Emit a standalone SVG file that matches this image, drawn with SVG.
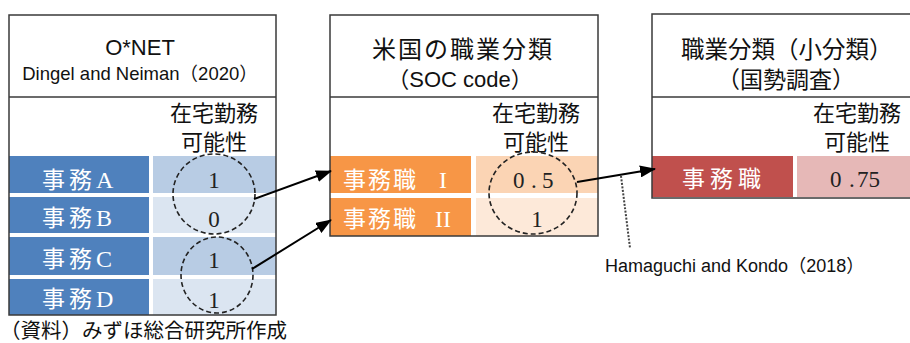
<svg xmlns="http://www.w3.org/2000/svg" width="910" height="343" viewBox="0 0 910 343">
<defs>
<style>
.frame{fill:none;stroke:#3a3a3a;stroke-width:1.5}
.sans{font-family:"Liberation Sans","Noto Sans CJK JP",sans-serif;fill:#111}
.jp{font-family:"Noto Sans CJK JP","Liberation Sans",sans-serif;fill:#111}
.lbl{font-family:"Noto Sans CJK JP","Liberation Serif",serif;fill:#fff;font-size:23px}
.lblr{font-family:"Liberation Serif","Noto Sans CJK JP",serif;fill:#fff;font-size:24px}
.val{font-family:"Liberation Serif","Noto Sans CJK JP",serif;fill:#222;font-size:23px;text-anchor:middle}
.circ{fill:none;stroke:#222;stroke-width:1.6;stroke-dasharray:5 3}
.conn{fill:none;stroke:#000;stroke-width:2}
</style>
<marker id="ah" markerUnits="userSpaceOnUse" markerWidth="16" markerHeight="12" refX="15" refY="6" orient="auto">
<path d="M0,0 L16,6 L0,12 Z" fill="#000"/>
</marker>
</defs>
<rect width="910" height="343" fill="#fff"/>

<g id="box-onet">
<rect x="9" y="156" width="140" height="37" fill="#4f81bd"/>
<rect x="9" y="197" width="140" height="36" fill="#4f81bd"/>
<rect x="9" y="237" width="140" height="38" fill="#4f81bd"/>
<rect x="9" y="279" width="140" height="36" fill="#4f81bd"/>
<rect x="153" y="156" width="123" height="37" fill="#b8cce4"/>
<rect x="153" y="197" width="123" height="36" fill="#dbe5f1"/>
<rect x="153" y="237" width="123" height="38" fill="#b8cce4"/>
<rect x="153" y="279" width="123" height="36" fill="#dbe5f1"/>
<rect class="frame" x="9" y="15" width="267" height="300"/>
<line class="frame" x1="9" y1="97" x2="276" y2="97"/>
<text class="sans" x="140" y="55" font-size="22" text-anchor="middle">O*NET</text>
<text class="sans" x="140" y="80" font-size="18.5" text-anchor="middle">Dingel and Neiman（2020）</text>
<text class="jp" x="214" y="121" font-size="22" text-anchor="middle">在宅勤務</text>
<text class="jp" x="214" y="150" font-size="22" text-anchor="middle">可能性</text>
<text class="lbl" x="42" y="188" letter-spacing="4">事務<tspan class="lblr">A</tspan></text>
<text class="lbl" x="42" y="226" letter-spacing="4">事務<tspan class="lblr">B</tspan></text>
<text class="lbl" x="42" y="267" letter-spacing="4">事務<tspan class="lblr">C</tspan></text>
<text class="lbl" x="42" y="307" letter-spacing="4">事務<tspan class="lblr">D</tspan></text>
<text class="val" x="214" y="188">1</text>
<text class="val" x="214" y="227">0</text>
<text class="val" x="214" y="268">1</text>
<text class="val" x="214" y="308">1</text>
<ellipse class="circ" cx="214" cy="194" rx="41" ry="40"/>
<ellipse class="circ" cx="217" cy="275" rx="36" ry="38"/>
</g>

<g id="box-soc">
<rect x="330" y="156" width="141" height="37" fill="#f79646"/>
<rect x="330" y="198" width="141" height="38" fill="#f79646"/>
<rect x="476" y="156" width="122" height="37" fill="#fbd4b4"/>
<rect x="476" y="198" width="122" height="38" fill="#fde9d9"/>
<rect class="frame" x="330" y="15" width="268" height="221"/>
<line class="frame" x1="330" y1="97" x2="598" y2="97"/>
<text class="jp" x="372" y="58" font-size="24" letter-spacing="2">米国の職業分類</text>
<text class="sans" x="460" y="87" font-size="22" text-anchor="middle">（SOC code）</text>
<text class="jp" x="536" y="121" font-size="22" text-anchor="middle">在宅勤務</text>
<text class="jp" x="536" y="150" font-size="22" text-anchor="middle">可能性</text>
<text class="lbl" x="343" y="188" font-size="23.5" letter-spacing="2">事務職</text>
<text class="lblr" x="443" y="188" text-anchor="middle">I</text>
<text class="lbl" x="343" y="227" font-size="23.5" letter-spacing="2">事務職</text>
<text class="lblr" x="443" y="227" text-anchor="middle">II</text>
<text class="val" y="188" style="text-anchor:start"><tspan x="513">0</tspan><tspan x="531">.</tspan><tspan x="542">5</tspan></text>
<text class="val" x="537" y="227">1</text>
<ellipse class="circ" cx="533" cy="193" rx="44" ry="41"/>
</g>

<g id="box-census">
<rect x="652" y="156" width="141" height="41" fill="#c0504d"/>
<rect x="797" y="156" width="130" height="41" fill="#e6b8b7"/>
<rect class="frame" x="652" y="14" width="280" height="184"/>
<line class="frame" x1="652" y1="97" x2="932" y2="97"/>
<text class="jp" x="681" y="58" font-size="23.5">職業分類（小分類）</text>
<text class="sans" x="786" y="88" font-size="23" text-anchor="middle">（国勢調査）</text>
<text class="jp" x="857" y="121" font-size="22" text-anchor="middle">在宅勤務</text>
<text class="jp" x="857" y="150" font-size="22" text-anchor="middle">可能性</text>
<text class="lbl" x="682" y="187" font-size="24" letter-spacing="5">事務職</text>
<text class="val" y="187" style="text-anchor:start"><tspan x="830">0</tspan><tspan x="849">.</tspan><tspan x="857">75</tspan></text>
</g>

<g id="connectors">
<line class="conn" x1="254" y1="199" x2="331" y2="171" marker-end="url(#ah)"/>
<line class="conn" x1="252" y1="269" x2="331" y2="220" marker-end="url(#ah)"/>
<line class="conn" x1="577" y1="182" x2="655" y2="169" marker-end="url(#ah)"/>
<line x1="621" y1="176" x2="630" y2="248" stroke="#444" stroke-width="2" stroke-dasharray="2 1.5"/>
</g>

<g id="notes">
<text class="sans" x="605" y="272" font-size="18">Hamaguchi and Kondo（2018）</text>
<text class="jp" x="0" y="338" font-size="20.5">（資料）みずほ総合研究所作成</text>
</g>
</svg>
